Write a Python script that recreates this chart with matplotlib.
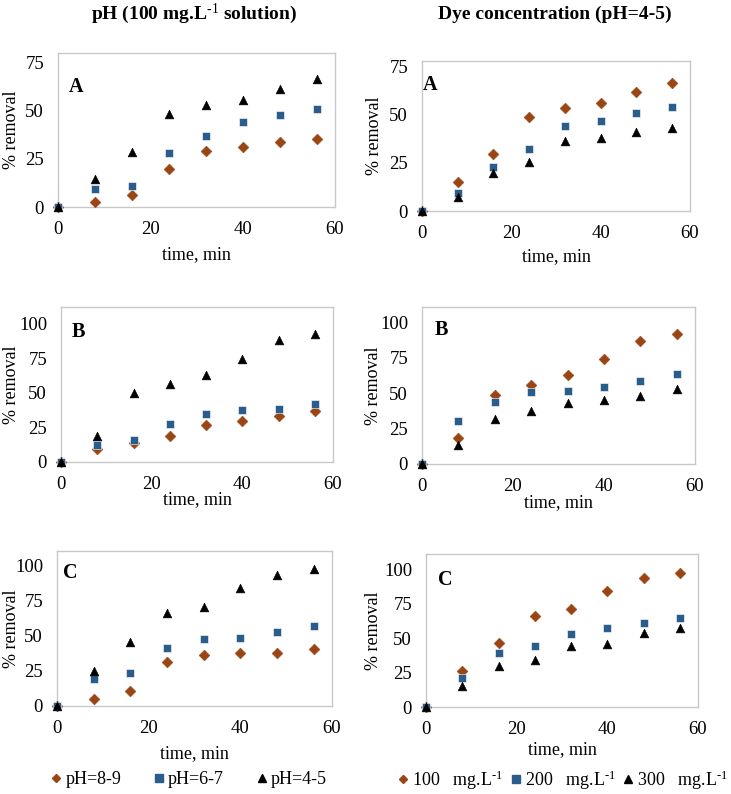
import matplotlib
matplotlib.use("Agg")
import matplotlib.pyplot as plt
from matplotlib.lines import Line2D

plt.rcParams['font.family'] = ['Liberation Serif', 'DejaVu Serif']
plt.rcParams['mathtext.fontset'] = 'custom'
plt.rcParams['mathtext.rm'] = 'Liberation Serif'
plt.rcParams['mathtext.it'] = 'Liberation Serif:italic'
plt.rcParams['mathtext.bf'] = 'Liberation Serif:bold'

W, H = 731, 794

time = [0, 8, 16, 24, 32, 40, 48, 56]

# Left column: effect of pH (100 mg/L solution)
phA_89 = [0, 2.5, 6.2, 20.0, 29.3, 31.0, 34.0, 35.5]
phA_67 = [0, 9.1, 10.7, 28.0, 36.9, 44.3, 47.8, 51.0]
phA_45 = [0, 14.4, 28.5, 48.3, 53.0, 55.7, 61.5, 66.3]

phB_89 = [0, 9.2, 14.0, 18.9, 26.6, 29.8, 32.9, 36.6]
phB_67 = [0, 12.3, 16.2, 27.4, 34.6, 37.5, 38.2, 41.9]
phB_45 = [0, 18.9, 49.6, 56.4, 63.0, 74.3, 88.4, 92.3]

phC_89 = [0, 5.0, 10.6, 31.0, 36.2, 37.4, 37.9, 40.4]
phC_67 = [0, 18.9, 23.2, 41.4, 47.3, 48.5, 52.7, 56.7]
phC_45 = [0, 24.8, 45.6, 66.2, 70.0, 83.9, 92.9, 97.2]

# Right column: effect of dye concentration (pH=4-5)
dyA_100 = [0, 15.0, 29.5, 48.8, 53.8, 56.2, 62.0, 66.4]
dyA_200 = [0, 9.3, 23.1, 32.2, 44.0, 47.0, 51.2, 54.1]
dyA_300 = [0, 7.2, 19.7, 25.3, 36.6, 37.9, 40.9, 43.1]

dyB_100 = [0, 18.4, 48.9, 56.0, 62.8, 74.1, 87.3, 91.8]
dyB_200 = [0, 30.6, 43.5, 50.6, 51.5, 54.4, 58.6, 63.3]
dyB_300 = [0, 13.6, 31.8, 37.2, 43.1, 45.4, 47.8, 53.2]

dyC_100 = [0, 25.8, 46.3, 66.3, 70.8, 84.1, 93.7, 97.3]
dyC_200 = [0, 21.0, 39.0, 44.6, 53.0, 57.6, 61.2, 64.8]
dyC_300 = [0, 15.0, 29.4, 34.2, 43.9, 45.8, 53.5, 57.1]

ph_labels = ['pH=8-9', 'pH=6-7', 'pH=4-5']
dye_labels = ['100   mg.L$^{\\text{-1}}$', '200   mg.L$^{\\text{-1}}$', '300   mg.L$^{\\text{-1}}$']
panel_letters = ['A', 'B', 'C']
col_titles = ['pH (100 mg.L$^{\\mathbf{\\text{-1}}}$ solution)', 'Dye concentration (pH=4-5)']

c_dia = '#9A4614'
c_sq = '#2A5D8C'
c_tri = '#000000'
styles = [('D', c_dia, 30), ('s', c_sq, 34), ('^', c_tri, 40)]

fig = plt.figure(figsize=(W / 100, H / 100), dpi=100)


def box(l, t, r, b):
    return [l / W, 1 - b / H, (r - l) / W, (b - t) / H]


panels = [
    # (box px, data, ymax, yticks, letter pos, xlabel y, ylabel x)
    ((58, 53, 335, 207), [phA_89, phA_67, phA_45], 80, [0, 25, 50, 75], (76, 87), 255, 12),
    ((422, 61, 690, 211), [dyA_100, dyA_200, dyA_300], 78, [0, 25, 50, 75], (430, 85), 257, 375),
    ((61, 307, 333, 462), [phB_89, phB_67, phB_45], 112, [0, 25, 50, 75, 100], (78, 332), 500, 12),
    ((422, 307, 695, 464), [dyB_100, dyB_200, dyB_300], 111, [0, 25, 50, 75, 100], (441, 330), 503, 373),
    ((57, 551, 332, 706), [phC_89, phC_67, phC_45], 110, [0, 25, 50, 75, 100], (70, 573), 754, 12),
    ((426, 554, 698, 707), [dyC_100, dyC_200, dyC_300], 111, [0, 25, 50, 75, 100], (445, 580), 750, 373),
]

for i, (bx, data, ymax, yt, lpos, xly, ylx) in enumerate(panels):
    ax = fig.add_axes(box(*bx))
    for (m, c, s), ys in zip(styles, data):
        ax.scatter(time, ys, marker=m, s=s, color=c, edgecolors='white' if m == 's' else c,
                   linewidths=0.4, zorder=3, clip_on=False)
    ax.set_xlim(0, 60)
    ax.set_ylim(0, ymax)
    ax.set_xticks([0, 20, 40, 60])
    ax.set_yticks(yt)
    ax.tick_params(length=0, labelsize=13.5, pad=10)
    for sp in ax.spines.values():
        sp.set_color('#c8c8c8')
        sp.set_linewidth(1.0)
    ax.set_xlabel('time, min', fontsize=13)
    ax.set_ylabel('% removal', fontsize=13)
    cx = (bx[0] + bx[2]) / 2
    cy = (bx[1] + bx[3]) / 2
    ax.xaxis.set_label_coords(cx / W, 1 - xly / H, transform=fig.transFigure)
    ax.yaxis.set_label_coords(ylx / W, 1 - cy / H, transform=fig.transFigure)
    ax.xaxis.label.set_va('center')
    ax.yaxis.label.set_va('center')
    fig.text(lpos[0] / W, 1 - lpos[1] / H, panel_letters[i // 2], fontsize=14.5,
             fontweight='bold', ha='center', va='center')

fig.text(194 / W, 1 - 14 / H, col_titles[0], fontsize=14, fontweight='bold',
         ha='center', va='center')
fig.text(555 / W, 1 - 14 / H, col_titles[1], fontsize=14, fontweight='bold',
         ha='center', va='center')

handles = [Line2D([], [], linestyle='none', marker=m, color=c, markersize=5.5 if m != 'D' else 4.5)
           for (m, c, s) in styles]
fig.legend(handles, ph_labels, loc='center', bbox_to_anchor=(188 / W, 1 - 780 / H),
           ncol=3, frameon=False, fontsize=13, handletextpad=0.1, columnspacing=1.7,
           handlelength=0.8)
fig.legend(handles, dye_labels, loc='center', bbox_to_anchor=(562 / W, 1 - 780 / H),
           ncol=3, frameon=False, fontsize=13, handletextpad=0.1, columnspacing=0.3,
           handlelength=0.8)

fig.savefig('out.png', dpi=100)
